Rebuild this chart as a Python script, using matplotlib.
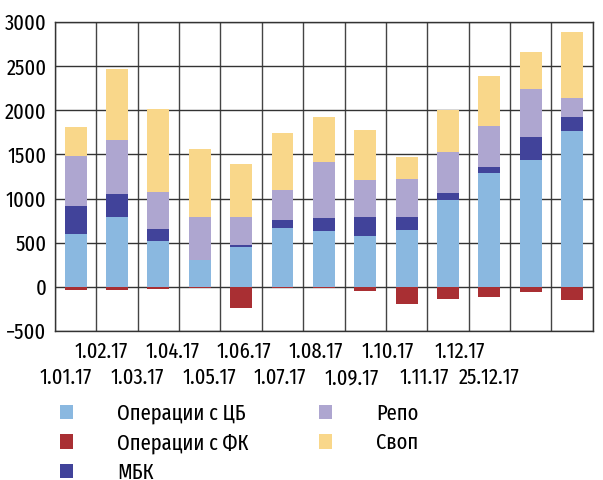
import numpy as np
import matplotlib
matplotlib.use('Agg')
import matplotlib.pyplot as plt
from matplotlib.patches import Patch

plt.rcParams['font.family'] = ['Fira Sans Extra Condensed', 'PT Sans Narrow', 'DejaVu Sans']

# dates and series
dates = ['1.01.17', '1.02.17', '1.03.17', '1.04.17', '1.05.17', '1.06.17', '1.07.17',
         '1.08.17', '1.09.17', '1.10.17', '1.11.17', '1.12.17', '25.12.17']
cb   = [600, 795, 520, 307, 455, 663, 629, 572, 648, 981, 1288, 1432, 1769]
fk   = [-30, -30, -25, -10, -240, -10, -10, -45, -190, -133, -117, -53, -144]
mbk  = [313, 254, 130, 0, 20, 98, 151, 216, 144, 80, 68, 261, 151]
repo = [568, 614, 420, 488, 315, 334, 637, 424, 435, 466, 466, 549, 224]
swap = [329, 803, 945, 762, 600, 647, 507, 561, 239, 473, 561, 413, 742]

names = ['Операции с ЦБ', 'Операции с ФК', 'МБК', 'Репо', 'Своп']
colors = ['#8ab8e0', '#a92f33', '#41439a', '#aea6d0', '#f9d78a']

# x positions of the date labels (they are not aligned with the bars)
label_pos = [-0.23, 0.62, 1.48, 2.35, 3.22, 4.07, 4.94, 5.81, 6.68, 7.55, 8.42, 9.29, 9.99]

fig = plt.figure(figsize=(6.03, 4.80), dpi=100)
ax = fig.add_axes([55/603, 1-331/480, (592.7-55)/603, (331-22)/480])

x = np.arange(len(dates))
w = 0.53
cb = np.array(cb); mbk = np.array(mbk); repo = np.array(repo); swap = np.array(swap)
ax.bar(x, cb, w, color=colors[0], zorder=3)
ax.bar(x, fk, w, color=colors[1], zorder=3)
ax.bar(x, mbk, w, bottom=cb, color=colors[2], zorder=3)
ax.bar(x, repo, w, bottom=cb+mbk, color=colors[3], zorder=3)
ax.bar(x, swap, w, bottom=cb+mbk+repo, color=colors[4], zorder=3)

ax.set_xlim(-0.5, len(dates)-0.5)
ax.set_ylim(-500, 3000)
ax.set_yticks(range(-500, 3001, 500))

# grid at column boundaries
for k in range(len(dates)+1):
    ax.axvline(k-0.5, color='#444444', lw=1, zorder=1)
for v in range(-500, 3001, 500):
    ax.axhline(v, color='#333333', lw=1, zorder=1)

fs = 16
ax.set_xticks(label_pos[1::2], dates[1::2])
ax.set_xticks(label_pos[0::2], dates[0::2], minor=True)
ax.tick_params(axis='x', which='major', length=0, pad=7, labelsize=fs)
ax.tick_params(axis='x', which='minor', length=0, pad=26, labelsize=fs)
ax.tick_params(axis='y', length=0, pad=6, labelsize=fs)
for s in ax.spines.values():
    s.set_color('#333333')
    s.set_linewidth(1)

# legend in two columns
h = [Patch(facecolor=c, edgecolor='none') for c in colors]
kw = dict(frameon=False, fontsize=fs, handlelength=0.6, handleheight=0.6,
          handletextpad=2.0, labelspacing=0.36, borderpad=0, borderaxespad=0,
          loc='upper left')
fig.legend(h[:3], names[:3], bbox_to_anchor=(59.5/603, 1-403/480), **kw)
fig.legend(h[3:], names[3:], bbox_to_anchor=(318.5/603, 1-403/480), **kw)

fig.savefig('out.png', dpi=100)
